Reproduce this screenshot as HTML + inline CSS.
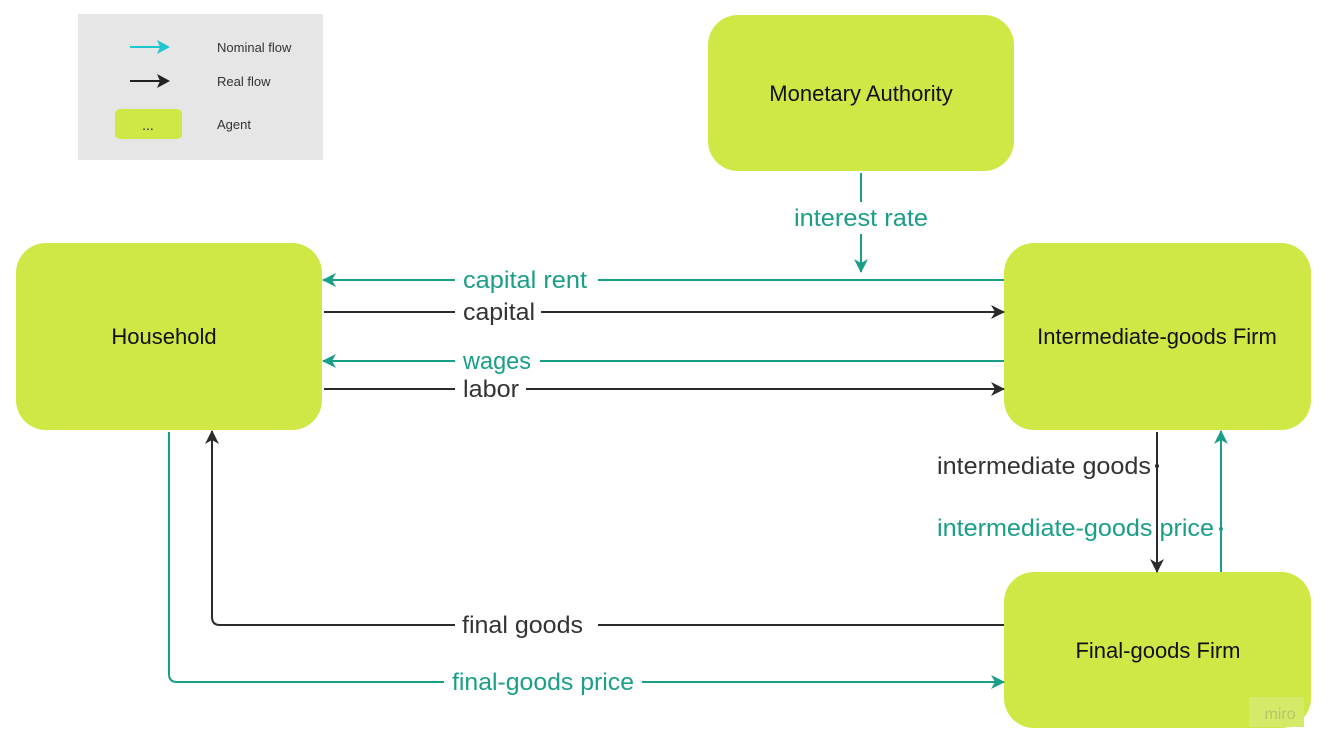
<!DOCTYPE html>
<html><head><meta charset="utf-8"><style>
html,body{margin:0;padding:0;background:#fff;}
svg{display:block;}
text{font-family:"Liberation Sans",sans-serif;}
</style></head><body>
<svg width="1331" height="750" viewBox="0 0 1331 750" xmlns="http://www.w3.org/2000/svg">
<defs>
<marker id="at" markerWidth="14" markerHeight="14" refX="13" refY="7" orient="auto" markerUnits="userSpaceOnUse"><path d="M0,0 L14,7 L0,14 L4,7 Z" fill="#1a9e88"/></marker>
<marker id="ab" markerWidth="14" markerHeight="14" refX="13" refY="7" orient="auto" markerUnits="userSpaceOnUse"><path d="M0,0 L14,7 L0,14 L4,7 Z" fill="#2b2b2b"/></marker>
</defs>
<!-- legend -->
<rect x="78" y="14" width="245" height="146" fill="#e6e6e6"/>
<line x1="130" y1="47" x2="162" y2="47" stroke="#1fc6cf" stroke-width="2"/>
<path d="M157,40 L170,47 L157,54 L160,47Z" fill="#1fc6cf"/>
<line x1="130" y1="81" x2="162" y2="81" stroke="#222" stroke-width="2"/>
<path d="M157,74 L170,81 L157,88 L160,81Z" fill="#222"/>
<rect x="115" y="109" width="67" height="30" rx="5" fill="#d0e846"/>
<text x="148" y="130" font-size="14" text-anchor="middle" fill="#222">...</text>
<text x="217" y="52" font-size="13" fill="#333">Nominal flow</text>
<text x="217" y="86" font-size="13" fill="#333">Real flow</text>
<text x="217" y="129" font-size="13" fill="#333">Agent</text>
<!-- boxes -->
<rect x="708" y="15" width="306" height="156" rx="30" fill="#d0e846"/>
<rect x="16" y="243" width="306" height="187" rx="30" fill="#d0e846"/>
<rect x="1004" y="243" width="307" height="187" rx="30" fill="#d0e846"/>
<rect x="1004" y="572" width="307" height="156" rx="30" fill="#d0e846"/>
<rect x="1249" y="697" width="55" height="30" fill="#d6ea6a"/>
<text x="1280" y="719" font-size="16" fill="#b8c46a" text-anchor="middle">miro</text>
<text x="861" y="101" font-size="22" text-anchor="middle" fill="#111">Monetary Authority</text>
<text x="164" y="344" font-size="22" text-anchor="middle" fill="#111">Household</text>
<text x="1157" y="344" font-size="22" text-anchor="middle" fill="#111">Intermediate-goods Firm</text>
<text x="1158" y="658" font-size="22" text-anchor="middle" fill="#111">Final-goods Firm</text>
<g stroke-width="2" fill="none">
<line x1="861" y1="173" x2="861" y2="202" stroke="#1a9e88"/>
<line x1="861" y1="234" x2="861" y2="272" stroke="#1a9e88" marker-end="url(#at)"/>
<line x1="1004" y1="280" x2="598" y2="280" stroke="#1a9e88"/>
<line x1="455" y1="280" x2="323" y2="280" stroke="#1a9e88" marker-end="url(#at)"/>
<line x1="324" y1="312" x2="455" y2="312" stroke="#2b2b2b"/>
<line x1="541" y1="312" x2="1004" y2="312" stroke="#2b2b2b" marker-end="url(#ab)"/>
<line x1="1004" y1="361" x2="540" y2="361" stroke="#1a9e88"/>
<line x1="455" y1="361" x2="323" y2="361" stroke="#1a9e88" marker-end="url(#at)"/>
<line x1="324" y1="389" x2="455" y2="389" stroke="#2b2b2b"/>
<line x1="526" y1="389" x2="1004" y2="389" stroke="#2b2b2b" marker-end="url(#ab)"/>
<line x1="1157" y1="432" x2="1157" y2="572" stroke="#2b2b2b" marker-end="url(#ab)"/>
<line x1="1221" y1="572" x2="1221" y2="431" stroke="#1a9e88" marker-end="url(#at)"/>
<line x1="1004" y1="625" x2="598" y2="625" stroke="#2b2b2b"/>
<path d="M455,625 L220,625 Q212,625 212,617 L212,431" stroke="#2b2b2b" marker-end="url(#ab)"/>
<path d="M169,432 L169,674 Q169,682 177,682 L444,682" stroke="#1a9e88"/>
<line x1="642" y1="682" x2="1004" y2="682" stroke="#1a9e88" marker-end="url(#at)"/>
</g>
<circle cx="1157" cy="466" r="2" fill="#2b2b2b"/>
<circle cx="1221" cy="529" r="2" fill="#1a9e88"/>
<g font-size="24" lengthAdjust="spacingAndGlyphs">
<text x="861" y="226" text-anchor="middle" fill="#1a9e88" textLength="134" lengthAdjust="spacingAndGlyphs">interest rate</text>
<text x="463" y="288" fill="#1a9e88" textLength="124" lengthAdjust="spacingAndGlyphs">capital rent</text>
<text x="463" y="320" fill="#333" textLength="72" lengthAdjust="spacingAndGlyphs">capital</text>
<text x="463" y="369" fill="#1a9e88" textLength="68" lengthAdjust="spacingAndGlyphs">wages</text>
<text x="463" y="397" fill="#333" textLength="56" lengthAdjust="spacingAndGlyphs">labor</text>
<text x="937" y="474" fill="#333" textLength="214" lengthAdjust="spacingAndGlyphs">intermediate goods</text>
<text x="937" y="536" fill="#1a9e88" textLength="277" lengthAdjust="spacingAndGlyphs">intermediate-goods price</text>
<text x="462" y="633" fill="#333" textLength="121" lengthAdjust="spacingAndGlyphs">final goods</text>
<text x="452" y="690" fill="#1a9e88" textLength="182" lengthAdjust="spacingAndGlyphs">final-goods price</text>
</g>
</svg>
</body></html>
